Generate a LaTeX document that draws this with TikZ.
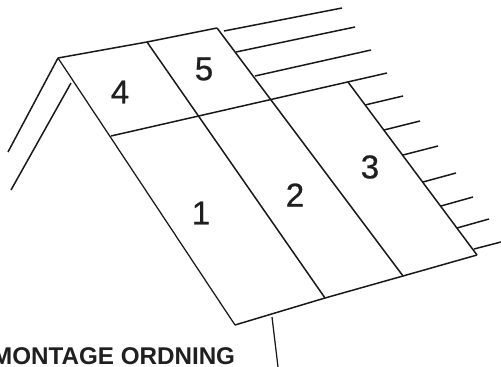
\documentclass[tikz,border=0pt]{standalone}
\usepackage{fontspec}
\setmainfont{Liberation Sans}
\newfontface\digitface[FakeBold=0.7]{Liberation Sans}
\tikzset{
  roofline/.style={line width=1.5pt,color=black!90,line cap=butt},
  thinline/.style={line width=1.25pt,color=black!90},
  digit/.style={font=\digitface\fontsize{33}{33}\selectfont,text=black!88,inner sep=0pt},
  caption/.style={font=\fontsize{24.2}{25}\selectfont\bfseries,text=black!88,inner sep=0pt,anchor=base west}
}
\begin{document}
\begin{tikzpicture}[x=1pt,y=-1pt]
\useasboundingbox (0,0) rectangle (501,367);
\clip (0,0) rectangle (501,367);
% roof corners
\coordinate (A) at (58,58);
\coordinate (R1) at (147,42);
\coordinate (R2) at (217,28);
\coordinate (B) at (235,325);
\coordinate (E1) at (325,298);
\coordinate (E2) at (403,276);
\coordinate (C) at (477,255);
\coordinate (T) at (348,82);
\coordinate (H0) at (111,136);
\coordinate (H1) at (387,73);
% roof outline and seams
\draw[roofline] (A) -- (R1) -- (R2);
\draw[thinline] (A) -- (B);
\draw[roofline] (B) -- (E1) -- (E2) -- (C);
\draw[roofline] (R1) -- (E1);
\draw[roofline] (R2) -- (E2);
\draw[roofline] (T) -- (C);
\draw[roofline] (H0) -- (H1);
% gable
\coordinate (G1) at (8,152);
\coordinate (G2a) at (71,83);
\coordinate (G2b) at (11,190);
\draw[roofline] (A) -- (G1);
\draw[roofline] (G2a) -- (G2b);
% post
\coordinate (P1) at (272,317);
\coordinate (P2) at (278,367);
\draw[thinline] (P1) -- (P2);
% battens
\foreach \i/\xa/\ya/\xb/\yb in {
 1/224/31/342/8, 2/236/52/355/27, 3/255/76/371/50,
 4/365/105/403/96, 5/384/130/420/121, 6/403/155/438/146,
 7/423/182/456/173, 8/441/206/473/197, 9/457/228/489/219, 10/474/249/501/242}{
  \coordinate (b\i s) at (\xa,\ya);
  \coordinate (b\i e) at (\xb,\yb);
  \draw[roofline] (b\i s) -- (b\i e);
}
% numbers
\node[digit] (n4) at (120,92) {4};
\node[digit] (n5) at (204,69) {5};
\node[digit] (n1) at (201,213) {1};
\node[digit] (n2) at (295,195) {2};
\node[digit] (n3) at (370,167) {3};
\node[caption] (cap) at (-8,364) {MONTAGE ORDNING};
\end{tikzpicture}
\end{document}
